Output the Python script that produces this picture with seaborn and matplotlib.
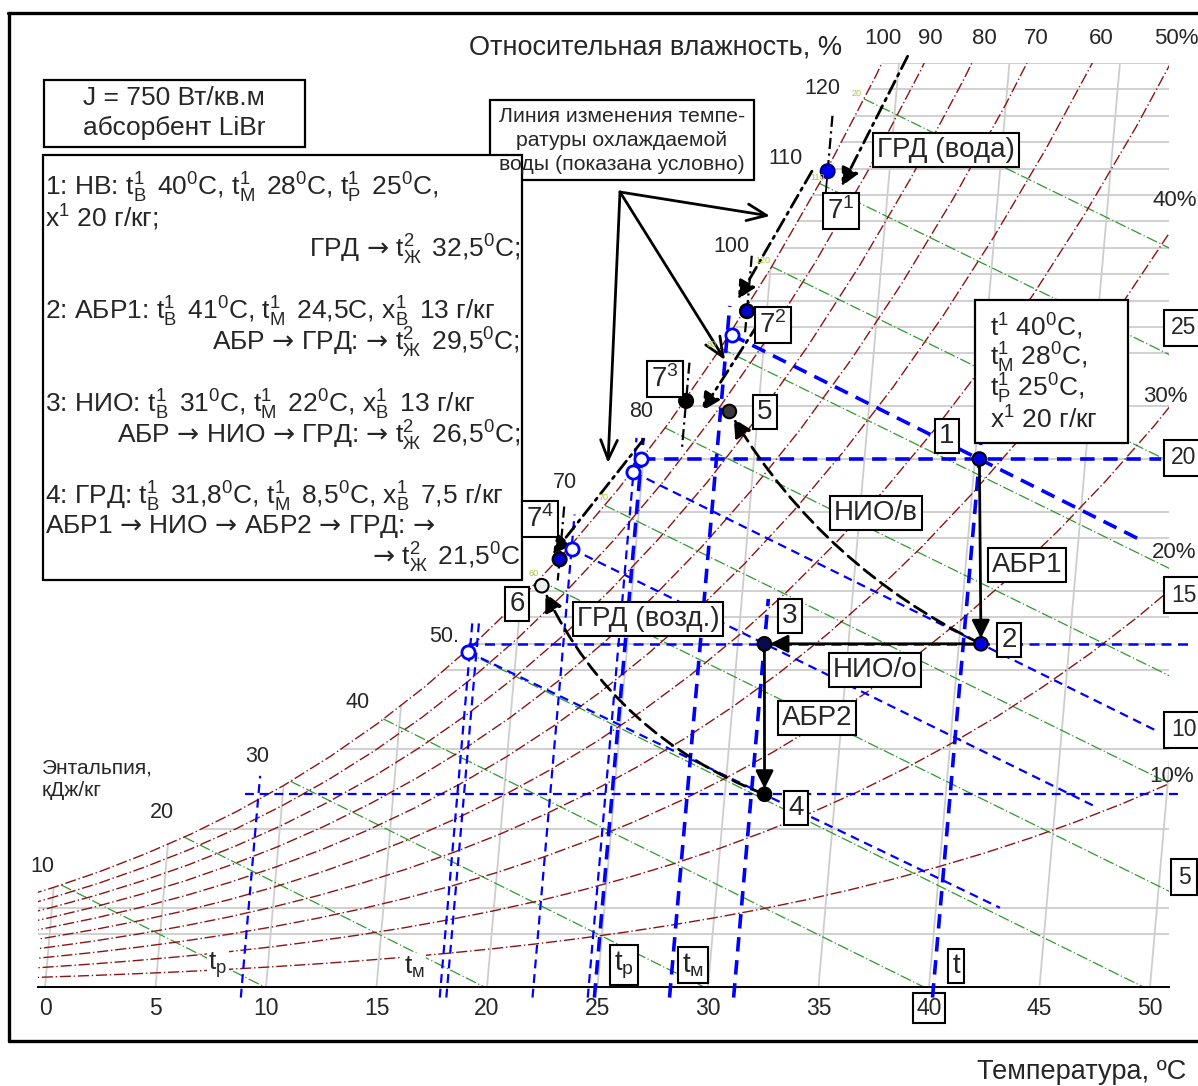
import numpy as np
import pandas as pd
import matplotlib
matplotlib.use("Agg")
import matplotlib.pyplot as plt
from matplotlib.patches import Rectangle
from matplotlib.lines import Line2D
import seaborn as sns

# saturation table: temperature, C and vapour pressure, kPa
t_table = [-1, 0, 2, 4, 6, 8, 10, 12, 14, 16, 18, 20, 22, 24, 26,
           28, 30, 32, 34, 36, 38, 40, 42, 44, 46, 48, 50, 52]
ps_table = [0.568, 0.611, 0.706, 0.814, 0.935, 1.073, 1.228, 1.403, 1.599,
            1.819, 2.065, 2.339, 2.645, 2.986, 3.364, 3.783, 4.247, 4.759,
            5.325, 5.948, 6.634, 7.385, 8.205, 9.108, 10.094, 11.172, 12.351, 13.631]

rh_levels = [10, 20, 30, 40, 50, 60, 70, 80, 90, 100]
enth_levels = [10, 20, 30, 40, 50, 60, 70, 80, 90, 100, 110, 120]
grid_t = [0, 5, 10, 15, 20, 25, 30, 35, 40, 45, 50]
grid_d = [2, 3, 6, 9, 12, 13, 14, 15, 17, 18, 20, 22, 24, 25, 26, 27, 28,
          29, 30, 31, 32, 33, 34, 35]

# state points 1..6 (t, C ; x, g/kg)
pt_t = [40.2, 41.0, 31.2, 31.8, 28.7, 20.9]
pt_d = [20.0, 13.0, 13.0, 7.3, 21.8, 15.2]
pt_fill = ['#0000e0', '#0000e0', '#0a0a50', '#000000', '#3a3a3a', '#eeeeee']

# water points 7^1..7^4
w_t = [32.2, 29.1, 26.7, 21.6]
w_d = [30.9, 25.6, 22.2, 16.2]
w_fill = ['#0000ff', '#0000d0', '#000000', '#0000d0']

# open circles on the saturation curve
open_t = [28.5, 24.9, 24.6, 22.1, 17.8]
open_d = [24.7, 20.0, 19.5, 16.6, 12.7]

# construction lines (blue dashed)
wb_t0 = [28.5, 24.6, 22.1, 17.8]
wb_d0 = [24.7, 19.5, 16.6, 12.7]
wb_t1 = [47.9, 49.3, 46.9, 42.9]
wb_d1 = [16.9, 9.7, 6.8, 3.0]
wb_lw = [2.6, 1.6, 1.6, 1.6]

hz_d = [20.0, 13.0, 7.3]
hz_t0 = [24.9, 17.8, 8.3]
hz_t1 = [48.4, 50.4, 50.6]
hz_lw = [2.6, 1.8, 1.6]

iso_t = [8.9, 17.9, 18.2, 22.1, 24.6, 24.9, 28.3, 31.2, 40.2]
iso_top = [8.0, 13.8, 13.8, 17.9, 20.8, 20.8, 25.8, 14.7, 20.7]
iso_lw = [1.6, 1.6, 1.6, 1.6, 1.6, 2.6, 2.6, 2.6, 2.6]

# water line arrows: pixel offsets of start and tip from each 7-point
wl_start = [(80, -115), (65, -140), (72, -77), (84, -120)]
wl_tip = [(14, 15), (-9, -12), (16, 10), (-7, -5)]
tick_up = [2.1, 2.1, 1.45, 2.0]
tick_dn = [0.0, 0.8, 1.9, 0.8]

SKEW = 0.104
B = 101.325
X_MIN, X_MAX, D_MAX = -0.3, 50.86, 35.0
PXX, PXY = 22.1, 26.4
W_PX, H_PX = 1198, 1086

RED = '#8b1414'
GREEN = '#2f9a2f'
BLUE = '#0000ff'

sns.set_style('white')
plt.rcParams['font.family'] = ['Liberation Sans', 'DejaVu Sans']
plt.rcParams['mathtext.fontset'] = 'custom'
plt.rcParams['mathtext.rm'] = 'Liberation Sans'
plt.rcParams['mathtext.it'] = 'Liberation Sans:italic'
plt.rcParams['mathtext.bf'] = 'Liberation Sans:bold'
plt.rcParams['mathtext.sf'] = 'DejaVu Sans'

tt = np.array(t_table, float)
ps = np.array(ps_table)


def moist(phi, p):
    return 622 * phi * p / (B - phi * p)


d_sat = moist(1.0, ps)
i_sat = 1.006 * tt + d_sat * (2.501 + 0.00186 * tt)


def X(t, d):
    return np.asarray(t) + SKEW * np.asarray(d)


def off(t, d, dx, dy):
    return X(t, d) + dx / PXX, d - dy / PXY


fig = plt.figure(figsize=(11.98, 10.86), dpi=100)
ax = fig.add_axes([38.4 / W_PX, 1 - 987 / H_PX, 1130.6 / W_PX, 924 / H_PX])
ax.set_xlim(X_MIN, X_MAX)
ax.set_ylim(0, D_MAX)

# gray grid
rows = []
for t in grid_t:
    top = min(np.interp(t, tt, d_sat), D_MAX)
    rows += [('t%d' % t, X(t, 0), 0.0), ('t%d' % t, X(t, top), top)]
for d in grid_d:
    x0 = max(X_MIN, X(np.interp(d, d_sat, tt), d))
    rows += [('d%d' % d, x0, d), ('d%d' % d, X_MAX, d)]
grid_df = pd.DataFrame(rows, columns=['k', 'X', 'd'])
sns.lineplot(data=grid_df, x='X', y='d', units='k', estimator=None, sort=False,
             color='#cdcdcd', lw=1.3, ax=ax, legend=False, zorder=1)

# enthalpy lines
rows = []
for i in enth_levels:
    ds = np.interp(i, i_sat, d_sat)
    for d in (ds, 0.0):
        t = (i - 2.501 * d) / (1.006 + 0.00186 * d)
        rows.append((i, X(t, d), d))
en_df = pd.DataFrame(rows, columns=['i', 'X', 'd'])
sns.lineplot(data=en_df, x='X', y='d', units='i', estimator=None, sort=False,
             color=GREEN, lw=0.9, linestyle=(0, (9, 2, 1, 2)), ax=ax,
             legend=False, zorder=2)

# relative humidity curves
rh_df = pd.concat([pd.DataFrame({'phi': f, 't': tt, 'd': moist(f / 100, ps)})
                   for f in rh_levels])
rh_df['X'] = X(rh_df['t'], rh_df['d'])
sns.lineplot(data=rh_df, x='X', y='d', units='phi', estimator=None, sort=False,
             color=RED, lw=1.0, linestyle=(0, (8, 2, 1, 2)), ax=ax,
             legend=False, zorder=3)

# blue construction lines
dash_thick = (0, (4, 2.4))
dash_thin = (0, (4, 2.6))
for a, b, c, e, w in zip(wb_t0, wb_d0, wb_t1, wb_d1, wb_lw):
    ax.plot(X([a, c], [b, e]), [b, e], color=BLUE, lw=w,
            ls=dash_thick if w > 2 else dash_thin, zorder=4)
for d, a, c, w in zip(hz_d, hz_t0, hz_t1, hz_lw):
    ax.plot(X([a, c], [d, d]), [d, d], color=BLUE, lw=w,
            ls=dash_thick if w > 2 else dash_thin, zorder=4, clip_on=False)
for t, top, w in zip(iso_t, iso_top, iso_lw):
    ax.plot(X([t, t], [-0.4, top]), [-0.4, top], color=BLUE, lw=w,
            ls=dash_thick if w > 2 else dash_thin, zorder=4, clip_on=False)

# black process arrows
solid = dict(arrowstyle='-|>,head_length=0.6,head_width=0.3', color='black',
             lw=2, mutation_scale=18, shrinkA=0, shrinkB=4)
for a, b in [(0, 1), (1, 2), (2, 3)]:
    ax.annotate('', xy=(X(pt_t[b], pt_d[b]), pt_d[b]),
                xytext=(X(pt_t[a], pt_d[a]), pt_d[a]), arrowprops=solid, zorder=5)
for a, b, r in [(1, 4, -0.15), (3, 5, -0.2)]:
    ax.annotate('', xy=(X(pt_t[b], pt_d[b]), pt_d[b]),
                xytext=(X(pt_t[a], pt_d[a]), pt_d[a]),
                arrowprops=dict(solid, ls=(0, (5, 2.5)), shrinkB=6,
                                connectionstyle='arc3,rad=%s' % r), zorder=5)

# water temperature line (dash-dot)
for t, d, s, e, up, dn in zip(w_t, w_d, wl_start, wl_tip, tick_up, tick_dn):
    ax.annotate('', xy=off(t, d, *e), xytext=off(t, d, *s),
                arrowprops=dict(solid, ls=(0, (5, 2, 1, 2)), shrinkB=0), zorder=5)
    ax.plot(X([t, t], [d + up, d - dn]), [d + up, d - dn], color='black', lw=1.6,
            ls=(0, (5, 2, 1, 2)), zorder=5, clip_on=False)
ax.plot(X([w_t[0]] * 2, [w_d[0], w_d[0] - 0.85]), [w_d[0], w_d[0] - 0.85],
        color='black', lw=1.3, zorder=5)

# points
sns.scatterplot(x=X(open_t, open_d), y=open_d, s=90, color='white',
                edgecolor=BLUE, linewidth=2, ax=ax, zorder=6)
sns.scatterplot(x=X(pt_t, pt_d), y=pt_d, s=95, c=pt_fill,
                edgecolor='black', linewidth=1.5, ax=ax, zorder=6)
sns.scatterplot(x=X(w_t, w_d), y=w_d, s=95, c=w_fill,
                edgecolor=['#000080', 'black', 'black', 'black'], linewidth=1.8,
                ax=ax, zorder=6)

# axis
for s in ['left', 'top', 'right']:
    ax.spines[s].set_visible(False)
ax.spines['bottom'].set_linewidth(1.4)
ax.spines['bottom'].set_color('black')
ax.set_xticks(grid_t, labels=[str(v) for v in grid_t])
ax.set_yticks([])
ax.tick_params(axis='x', length=4, width=1, pad=3, labelsize=16.5, direction='out',
               color='black')
for lab in ax.get_xticklabels():
    if lab.get_text() == '40':
        lab.set_bbox(dict(boxstyle='square,pad=0.15', fc='white', ec='black', lw=1.5))
ax.set_xlabel('')
ax.set_ylabel('')


# ---- figure-level text and frames ----
def fx(x):
    return x / W_PX


def fy(y):
    return 1 - y / H_PX


def txt(x, y, s, size=15, ha='center', box=False, bg=False, pad=0.16, **kw):
    bb = None
    if box:
        bb = dict(boxstyle='square,pad=%s' % pad, fc='white', ec='black', lw=1.5)
    elif bg:
        bb = dict(boxstyle='square,pad=0.05', fc='white', ec='none')
    fig.text(fx(x), fy(y), s, fontsize=size, ha=ha, va='center', bbox=bb,
             zorder=10, **kw)


def rect(x0, y0, x1, y1):
    fig.add_artist(Rectangle((fx(x0), fy(y1)), (x1 - x0) / W_PX, (y1 - y0) / H_PX,
                             transform=fig.transFigure, fc='white', ec='black',
                             lw=1.6, zorder=8))


for xs, ys in [((8, 1198), (13, 13)), ((9, 9), (13, 1041)), ((9, 1198), (1041, 1041))]:
    fig.add_artist(Line2D([fx(v) for v in xs], [fy(v) for v in ys],
                          transform=fig.transFigure, color='black', lw=2.4))

txt(656, 48, 'Относительная влажность, %', 19.5)
for s, x in zip(['100', '90', '80', '70', '60', '50%'], [883, 930, 984, 1036, 1101, 1176]):
    txt(x, 38, s, 16)
for s, y, x in zip(['40%', '30%', '20%', '10%'], [200, 397, 552, 777], [1175, 1165, 1174, 1172]):
    txt(x, y, s, 16)
for s, x, y in zip(['10', '20', '30', '40', '50.', '70', '80', '100', '110', '120'],
                   [42, 162, 257, 358, 444, 565, 641, 731, 786, 822],
                   [866, 812, 757, 702, 636, 483, 412, 246, 158, 88]):
    txt(x, y, s, 15.5)
for s, x, y in zip(['20', '110', '120', '80', '70', '60'],
                   [857, 818, 763, 712, 604, 534], [94, 177, 260, 344, 497, 573]):
    txt(x, y, s, 6.5, color='#a8c83c')
txt(42, 768, 'Энтальпия,', 15, ha='left')
txt(42, 791, 'кДж/кг', 15, ha='left')
txt(1186, 1072, 'Температура, ºC', 19.5, ha='right')

for s, y in zip(['25', '20', '15', '10', '5'], [328, 458, 595, 730, 877]):
    txt(1184, y, s, 16.5, box=True, pad=0.3)

rect(44, 80, 305, 147)
txt(174, 98, 'J = 750 Вт/кв.м', 19)
txt(174, 128, 'абсорбент LiBr', 19)

rect(490, 100, 754, 180)
for s, y in zip(['Линия изменения темпе-', 'ратуры охлаждаемой',
                 'воды (показана условно)'], [117, 141, 164]):
    txt(622, y, s, 15.3)

rect(43, 155, 522, 580)
T1 = r'$\mathregular{t^1_В\,}$'
TM = r'$\mathregular{t^1_М\,}$'
TP = r'$\mathregular{t^1_Р\,}$'
XB = r'$\mathregular{x^1_В\,}$'
TJ = r'$\mathregular{t^2_Ж\,}$'
DG = r'$\mathregular{^0}$'
AR = r'$\mathsf{→}$'
lines_left = [
    (188, '1: НВ: ' + T1 + ' 40' + DG + 'C, ' + TM + ' 28' + DG + 'C, ' + TP + ' 25' + DG + 'C,'),
    (218, r'x$\mathregular{^1}$ 20 г/кг;'),
    (312, '2: АБР1: ' + T1 + ' 41' + DG + 'C, ' + TM + ' 24,5C, ' + XB + ' 13 г/кг'),
    (405, '3: НИО: ' + T1 + ' 31' + DG + 'C, ' + TM + ' 22' + DG + 'C, ' + XB + ' 13 г/кг'),
    (497, '4: ГРД: ' + T1 + ' 31,8' + DG + 'C, ' + TM + ' 8,5' + DG + 'C, ' + XB + ' 7,5 г/кг'),
    (527, 'АБР1 ' + AR + ' НИО ' + AR + ' АБР2 ' + AR + ' ГРД: ' + AR),
]
lines_right = [
    (250, 'ГРД ' + AR + ' ' + TJ + ' 32,5' + DG + 'C;'),
    (343, 'АБР ' + AR + ' ГРД: ' + AR + ' ' + TJ + ' 29,5' + DG + 'C;'),
    (436, 'АБР ' + AR + ' НИО ' + AR + ' ГРД: ' + AR + ' ' + TJ + ' 26,5' + DG + 'C;'),
    (558, AR + ' ' + TJ + ' 21,5' + DG + 'C'),
]
for y, s in lines_left:
    txt(45, y, s, 19, ha='left')
for y, s in lines_right:
    txt(520, y, s, 19, ha='right')

rect(975, 300, 1128, 443)
for y, s in zip([327, 358, 389, 420],
                [r'$\mathregular{t^1}$ 40' + DG + 'C,',
                 r'$\mathregular{t^1_М}$ 28' + DG + 'C,',
                 r'$\mathregular{t^1_Р}$ 25' + DG + 'C,',
                 r'$\mathregular{x^1}$ 20 г/кг']):
    txt(990, y, s, 19, ha='left')

box_labels = [
    (946, 150, 'ГРД (вода)'), (841, 211, r'7$\mathregular{^1}$'),
    (773, 325, r'7$\mathregular{^2}$'), (665, 379, r'7$\mathregular{^3}$'),
    (540, 519, r'7$\mathregular{^4}$'), (765, 412, '5'), (947, 436, '1'),
    (876, 513, 'НИО/в'), (1027, 565, 'АБР1'), (517, 604, '6'),
    (648, 619, 'ГРД (возд.)'), (790, 616, '3'), (1009, 640, '2'),
    (875, 670, 'НИО/о'), (817, 718, 'АБР2'), (796, 808, '4'),
    (624, 965, r'$\mathregular{t_р}$'), (693, 965, r'$\mathregular{t_м}$'),
    (956, 966, 't'),
]
for x, y, s in box_labels:
    txt(x, y, s, 20, box=True, pad=0.15)
txt(218, 965, r'$\mathregular{t_р}$', 19, bg=True)
txt(414, 967, r'$\mathregular{t_м}$', 19, bg=True)

# arrows from the note box
head = dict(arrowstyle='->,head_length=0.7,head_width=0.3', color='black', lw=2,
            mutation_scale=20, shrinkA=0, shrinkB=0)
for ex, ey in [(770, 216), (725, 360), (608, 463)]:
    ax.annotate('', xy=(fx(ex), fy(ey)), xycoords='figure fraction',
                xytext=(fx(620), fy(192)), textcoords='figure fraction',
                arrowprops=head, zorder=7)

fig.savefig('out.png', dpi=100)
